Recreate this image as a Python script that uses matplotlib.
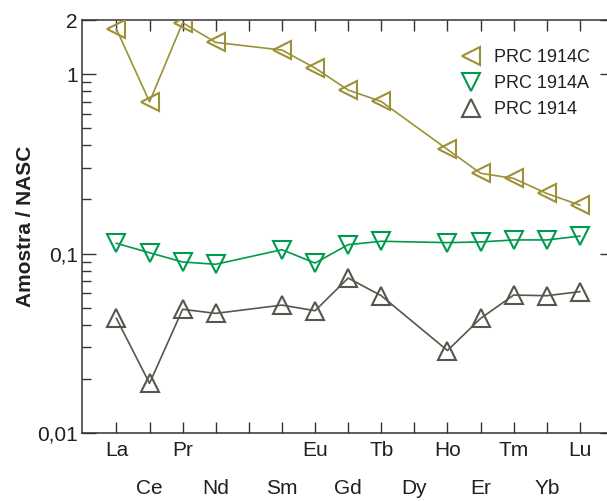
import matplotlib
matplotlib.use("Agg")
import matplotlib.pyplot as plt
from matplotlib.lines import Line2D

plt.rcParams['font.family'] = ['Liberation Sans', 'DejaVu Sans']

# Element positions (atomic numbers) and labels
tick_pos = list(range(57, 72))
tick_names = ["La", "Ce", "Pr", "Nd", "", "Sm", "Eu", "Gd", "Tb", "Dy", "Ho", "Er", "Tm", "Yb", "Lu"]

# Data positions (Pm and Dy not analysed)
elem_x = [57, 58, 59, 60, 62, 63, 64, 65, 67, 68, 69, 70, 71]

prc1914c = [1.78, 0.70, 1.93, 1.50, 1.36, 1.08, 0.814, 0.703, 0.380, 0.280, 0.262, 0.216, 0.186]
prc1914a = [0.114, 0.101, 0.0897, 0.0871, 0.105, 0.0885, 0.112, 0.117, 0.115, 0.116, 0.119, 0.119, 0.125]
prc1914 = [0.0435, 0.0189, 0.0489, 0.0464, 0.0516, 0.0480, 0.0730, 0.0582, 0.0288, 0.0435, 0.0587, 0.0582, 0.0613]

series_labels = ["PRC 1914C", "PRC 1914A", "PRC 1914"]
ytick_vals = [0.01, 0.1, 1, 2]
ytick_labels = ["0,01", "0,1", "1", "2"]

gold = "#9C9137"
green = "#009A4E"
gray = "#57564C"
ink = "#231F20"

fig = plt.figure(figsize=(6.07, 5.01), dpi=100)
W, H = 607, 501
L, R, T, B = 82, 614, 20, 433
ax = fig.add_axes([L / W, (H - B) / H, (R - L) / W, (B - T) / H])

ms = 13.5
mew = 1.5
lw = 1.2
ax.plot(elem_x, prc1914c, color=gold, lw=lw, marker='<', ms=ms, mfc='none', mec=gold, mew=mew, zorder=3)
ax.plot(elem_x, prc1914a, color=green, lw=lw, marker='v', ms=ms, mfc='none', mec=green, mew=mew, zorder=3)
ax.plot(elem_x, prc1914, color=gray, lw=lw, marker='^', ms=ms, mfc='none', mec=gray, mew=mew, zorder=3)

ax.set_yscale('log')
ax.set_ylim(0.01, 2)
ax.set_xlim(55.96, 72.03)

for s in ax.spines.values():
    s.set_color("#333333")
    s.set_linewidth(1.1)

# y ticks
ax.set_yticks(ytick_vals)
ax.set_yticklabels(ytick_labels)
minor = [k * 0.01 for k in range(2, 10)] + [k * 0.1 for k in range(2, 10)]
ax.set_yticks(minor, minor=True)
ax.yaxis.set_minor_formatter(matplotlib.ticker.NullFormatter())
ax.tick_params(axis='y', which='major', direction='in', length=10, width=1.0, color="#333333",
               labelsize=15, labelcolor=ink, pad=3, left=True, right=True)
ax.tick_params(axis='y', which='minor', direction='in', length=6.5, width=1.0, color="#333333",
               left=True, right=False)

# x ticks: top row as major labels, bottom row as minor labels
ax.xaxis.remove_overlapping_locs = False
ax.set_xticks(tick_pos)
ax.set_xticklabels([n if p % 2 == 1 else "" for p, n in zip(tick_pos, tick_names)])
ax.set_xticks([p for p in tick_pos if p % 2 == 0], minor=True)
ax.set_xticklabels([n for p, n in zip(tick_pos, tick_names) if p % 2 == 0], minor=True)
ax.tick_params(axis='x', which='major', direction='in', length=8, width=1.0, color="#333333",
               labelsize=15, labelcolor=ink, pad=6, top=True, bottom=True)
ax.tick_params(axis='x', which='minor', direction='in', length=0, labelsize=15,
               labelcolor=ink, pad=33, top=False, bottom=True)

ax.set_ylabel("Amostra / NASC", fontsize=15, fontweight='bold', color=ink)
ax.yaxis.set_label_coords(-(82 - 35) / (R - L), 0.5)

handles = [
    Line2D([], [], ls='none', marker='<', ms=ms, mfc='none', mec=gold, mew=mew),
    Line2D([], [], ls='none', marker='v', ms=ms, mfc='none', mec=green, mew=mew),
    Line2D([], [], ls='none', marker='^', ms=ms, mfc='none', mec=gray, mew=mew),
]
leg = fig.legend(handles, series_labels, loc='upper left', bbox_to_anchor=(460 / W, 1 - 49 / H),
                 frameon=False, fontsize=13, handlelength=1.2, handletextpad=0.7,
                 labelspacing=0.5, borderpad=0, borderaxespad=0, labelcolor=ink)

fig.savefig("out.png", dpi=100)
